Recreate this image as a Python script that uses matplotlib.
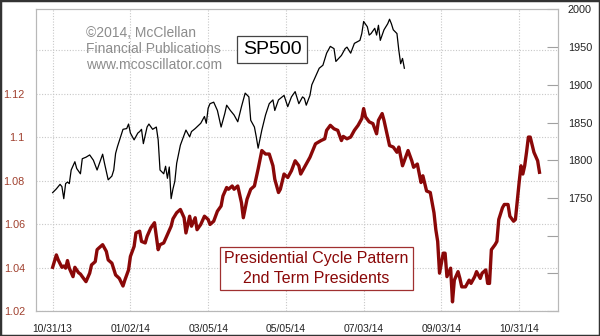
import matplotlib.pyplot as plt
from matplotlib.patches import Rectangle

# trading-day index since 10/31/13 (42 trading days between date ticks)
tick_days = [0, 42, 84, 126, 168, 210, 252]
tick_labels = ['10/31/13', '01/02/14', '03/05/14', '05/05/14', '07/03/14', '09/03/14', '10/31/14']

# presidential cycle pattern (left axis)
pc_days = [0, 2, 3, 5, 6, 7, 8, 9, 11, 12, 14, 15, 16, 18, 20, 21, 23, 24, 25, 27,
           29, 30, 32, 34, 36, 38, 39, 41, 42, 44, 45, 47, 48, 50, 51, 53, 55, 57, 58, 60,
           62, 64, 65, 67, 69, 71, 72, 74, 75, 77, 78, 80, 82, 84, 85, 87, 89, 91, 92, 94,
           95, 97, 98, 100, 102, 103, 105, 107, 109, 111, 113, 115, 117, 119, 120, 122, 123, 125, 127, 129,
           131, 133, 134, 137, 139, 142, 145, 147, 148, 150, 152, 154, 156, 157, 159, 161, 163, 165, 167, 168,
           169, 171, 173, 175, 176, 178, 179, 181, 182, 184, 186, 187, 189, 191, 192, 194, 195, 197, 199, 200,
           202, 204, 206, 207, 208, 209, 211, 212, 213, 215, 216, 217, 219, 220, 221, 223, 225, 226, 228, 229,
           231, 232, 234, 235, 236, 237, 239, 240, 241, 243, 244, 246, 247, 249, 250, 252, 253, 254, 255, 256,
           257, 258, 260, 262, 263]
pc_vals = [1.0401, 1.0458, 1.0435, 1.0401, 1.0407, 1.0397, 1.0432, 1.0397, 1.0358, 1.0401,
           1.0376, 1.0370, 1.0358, 1.0335, 1.0374, 1.0412, 1.0427, 1.0482, 1.0490, 1.0505,
           1.0474, 1.0435, 1.0420, 1.0366, 1.0350, 1.0315, 1.0342, 1.0389, 1.0451, 1.0497,
           1.0559, 1.0567, 1.0520, 1.0513, 1.0543, 1.0582, 1.0606, 1.0482, 1.0505, 1.0513,
           1.0551, 1.0590, 1.0624, 1.0652, 1.0667, 1.0629, 1.0559, 1.0636, 1.0590, 1.0629,
           1.0574, 1.0598, 1.0636, 1.0621, 1.0598, 1.0613, 1.0659, 1.0683, 1.0729, 1.0768,
           1.0760, 1.0775, 1.0760, 1.0775, 1.0698, 1.0629, 1.0714, 1.0760, 1.0775, 1.0853,
           1.0938, 1.0922, 1.0922, 1.0868, 1.0806, 1.0745, 1.0760, 1.0830, 1.0814, 1.0845,
           1.0891, 1.0868, 1.0830, 1.0876, 1.0907, 1.0969, 1.0984, 1.0992, 1.1031, 1.1054,
           1.1038, 1.1031, 1.0984, 1.1003, 1.0992, 1.1000, 1.1031, 1.1054, 1.1085, 1.1131,
           1.1093, 1.1070, 1.1062, 1.1015, 1.1077, 1.1108, 1.1077, 1.1000, 1.0961, 1.0954,
           1.0930, 1.0954, 1.0868, 1.0915, 1.0938, 1.0891, 1.0861, 1.0876, 1.0791, 1.0822,
           1.0752, 1.0745, 1.0652, 1.0574, 1.0520, 1.0374, 1.0466, 1.0466, 1.0358, 1.0397,
           1.0242, 1.0342, 1.0381, 1.0350, 1.0311, 1.0311, 1.0342, 1.0327, 1.0358, 1.0381,
           1.0350, 1.0374, 1.0389, 1.0327, 1.0327, 1.0482, 1.0505, 1.0520, 1.0621, 1.0675,
           1.0690, 1.0690, 1.0636, 1.0613, 1.0621, 1.0791, 1.0868, 1.0830, 1.0868, 1.0930,
           1.1000, 1.1000, 1.0930, 1.0891, 1.0838]

# SP500 (right axis)
sp_days = [0, 2, 4, 5, 6, 7, 8, 9, 10, 12, 13, 15, 16, 18, 20, 22, 24, 27, 28, 30,
           32, 33, 34, 35, 38, 40, 41, 42, 44, 46, 47, 48, 49, 51, 52, 54, 56, 57, 58, 60,
           61, 62, 63, 64, 65, 66, 67, 69, 72, 74, 75, 77, 80, 82, 83, 84, 85, 87, 89, 91,
           93, 94, 96, 98, 100, 102, 104, 106, 107, 109, 110, 111, 113, 115, 117, 119, 120, 122, 125, 127,
           129, 131, 133, 135, 136, 137, 139, 140, 142, 144, 146, 148, 150, 152, 153, 156, 158, 159, 161, 163,
           166, 167, 168, 170, 171, 172, 174, 175, 176, 177, 179, 181, 182, 183, 184, 186, 187, 188, 189, 190]
sp_vals = [1757, 1762, 1768, 1765, 1749, 1769, 1771, 1769, 1787, 1798, 1789, 1782, 1802, 1804, 1807, 1800,
           1787, 1808, 1796, 1774, 1779, 1787, 1809, 1818, 1841, 1842, 1848, 1836, 1827, 1836,
           1838, 1841, 1822, 1844, 1848, 1841, 1844, 1827, 1787, 1782, 1792, 1776, 1791, 1749,
           1762, 1772, 1796, 1820, 1840, 1831, 1838, 1842, 1849, 1858, 1849, 1869, 1875, 1877,
           1866, 1844, 1862, 1873, 1866, 1860, 1851, 1871, 1889, 1884, 1853, 1844, 1831, 1816,
           1840, 1860, 1875, 1880, 1866, 1880, 1886, 1871, 1884, 1891, 1875, 1884, 1882, 1873,
           1886, 1900, 1911, 1922, 1926, 1942, 1951, 1948, 1931, 1939, 1948, 1950, 1942, 1955,
           1959, 1968, 1984, 1977, 1966, 1968, 1975, 1966, 1979, 1959, 1973, 1981, 1987, 1981,
           1973, 1968, 1946, 1928, 1935, 1922]

left_ticks = [1.02, 1.04, 1.06, 1.08, 1.10, 1.12, 1.14]
left_labels = ['1.02', '1.04', '1.06', '1.08', '1.1', '1.12', '']
right_ticks = [1600, 1650, 1700, 1750, 1800, 1850, 1900, 1950, 2000]
right_labels = ['', '', '', '1750', '1800', '1850', '1900', '1950', '2000']

plt.rcParams['font.family'] = ['Liberation Sans', 'DejaVu Sans']

red = '#8a0808'
lbl_red = '#a0402e'
grid_c = '#c8c8c8'

fig = plt.figure(figsize=(6, 3.36), dpi=100)
fig.patch.set_facecolor('white')
ax = fig.add_axes([0.06, 0.0744, 0.87, 0.8975])
ax2 = ax.twinx()

# red pattern line on left axis
ax.plot(pc_days, pc_vals, color=red, lw=2.4, zorder=3)
ax.set_ylim(1.02, 1.1587)
ax.set_xlim(-9, 273)
ax.set_yticks(left_ticks)
ax.set_yticklabels(left_labels)
ax.set_xticks(tick_days)
ax.set_xticklabels(tick_labels)
ax.grid(True, color=grid_c, linestyle=(0, (1, 1.5)), lw=0.8)
ax.tick_params(axis='y', length=0, pad=8, labelsize=7.8, labelcolor=lbl_red)
ax.tick_params(axis='x', length=0, pad=9, labelsize=7.4, labelcolor='#222222')

# SP500 on right axis
ax2.plot(sp_days, sp_vals, color='black', lw=0.9, zorder=3)
ax2.set_ylim(1600, 2000)
ax2.set_yticks(right_ticks)
ax2.set_yticklabels(right_labels)
ax2.tick_params(axis='y', direction='in', length=8, width=0.8, color='#a0a0a0',
                pad=7, labelsize=7.8, labelcolor='#222222')

for a in (ax, ax2):
    for s in a.spines.values():
        s.set_color('#b8b8b8')
        s.set_linewidth(0.8)

# annotations placed in pixel coordinates of the figure (top-left origin)
def px(x, y):
    return x / 600, 1 - y / 336

fig.text(*px(86, 26), '©2014, McClellan\nFinancial Publications\nwww.mcoscillator.com',
         fontsize=10, color='#8c8c8c', va='top', ha='left', linespacing=1.2)

fig.text(*px(272, 49.5), 'SP500', fontsize=14, color='black', ha='center', va='center',
         bbox=dict(boxstyle='square,pad=0.28', fc='white', ec='#444444', lw=0.9))
fig.text(*px(316.5, 268.5), 'Presidential Cycle Pattern\n2nd Term Presidents', fontsize=11.5,
         color=red, ha='center', va='center', linespacing=1.35,
         bbox=dict(boxstyle='square,pad=0.25', fc='white', ec='#a03030', lw=0.9))

fig.add_artist(Rectangle((0, 0), 1, 1, transform=fig.transFigure, fill=False,
                         ec='#333333', lw=2.5))

fig.savefig('out.png', dpi=100)
